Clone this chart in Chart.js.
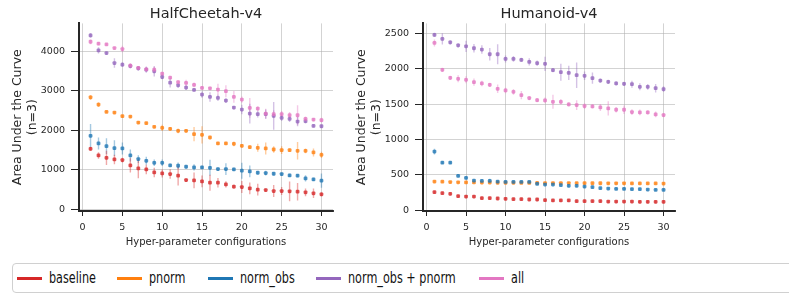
<!DOCTYPE html>
<html>
<head>
<meta charset="utf-8">
<script src="https://cdn.jsdelivr.net/npm/chart.js@4"></script>
<style>
	body { margin: 0; background: #fff; width: 789px; height: 294px; overflow: hidden; position: relative; font-family: 'DejaVu Sans', sans-serif; }
	.wrap { position: absolute; top: 0; width: 340px; height: 250px; }
	#legend { position: absolute; left: 12px; top: 263px; width: 800px; height: 30px; border: 1px solid #d0d0d0; border-radius: 4px; box-sizing: border-box; }
	.lg-line { position: absolute; top: 13px; width: 25px; height: 3px; }
	.lg-text { position: absolute; top: 4px; font-size: 16.5px; line-height: 20px; color: #111; white-space: nowrap; transform: scaleX(0.68); transform-origin: left center; }
</style>
</head>
<body>
<div class="wrap" style="left:0"><canvas id="chart0"></canvas></div>
<div class="wrap" style="left:340px"><canvas id="chart1"></canvas></div>
<div id="legend"></div>
<script>
var configs = [];
for (var i = 1; i <= 30; i++) configs.push(i);
var xTicks = [0, 5, 10, 15, 20, 25, 30];

var seriesNames = ['baseline', 'pnorm', 'norm_obs', 'norm_obs + pnorm', 'all'];
var seriesColors = ['214, 39, 40', '255, 127, 14', '31, 119, 180', '148, 103, 189', '227, 119, 194'];

// HalfCheetah-v4
var cheetahTicks = [0, 1000, 2000, 3000, 4000];
var cheetahBaseline = [1529, 1361, 1302, 1260, 1244, 1109, 1034, 1008, 933, 907, 891, 849, 739, 731, 706, 672, 672, 630, 571, 563, 529, 496, 487, 462, 462, 454, 445, 429, 403, 378];
var cheetahBaselineErr = [50, 80, 180, 120, 60, 180, 250, 120, 120, 100, 120, 250, 40, 200, 150, 200, 120, 80, 50, 150, 150, 150, 40, 150, 100, 250, 220, 100, 120, 50];
var cheetahPnorm = [2832, 2647, 2462, 2445, 2353, 2344, 2193, 2176, 2084, 2059, 2034, 1983, 1983, 1899, 1882, 1815, 1664, 1664, 1655, 1605, 1571, 1555, 1538, 1512, 1496, 1496, 1479, 1479, 1437, 1378];
var cheetahPnormErr = [60, 60, 30, 30, 30, 30, 30, 30, 30, 80, 40, 60, 40, 180, 220, 40, 40, 40, 60, 40, 40, 100, 150, 80, 100, 40, 220, 60, 100, 80];
var cheetahNormObs = [1857, 1664, 1597, 1546, 1538, 1361, 1269, 1227, 1176, 1176, 1109, 1101, 1076, 1059, 1059, 1050, 1017, 1017, 1008, 975, 958, 924, 916, 899, 891, 857, 849, 781, 756, 723];
var cheetahNormObsErr = [300, 150, 200, 200, 150, 150, 100, 100, 80, 80, 40, 80, 40, 80, 40, 200, 40, 150, 40, 200, 150, 40, 60, 40, 40, 40, 40, 80, 40, 180];
var cheetahNormPnorm = [4396, 4018, 3950, 3697, 3657, 3622, 3564, 3530, 3488, 3345, 3202, 3135, 3077, 3017, 2900, 2840, 2815, 2748, 2572, 2522, 2421, 2404, 2404, 2361, 2311, 2285, 2219, 2227, 2109, 2100];
var cheetahNormPnormErr = [60, 80, 40, 120, 60, 60, 60, 80, 130, 60, 120, 60, 60, 40, 80, 120, 80, 60, 40, 120, 250, 80, 120, 350, 80, 80, 120, 60, 40, 40];
var cheetahAll = [4236, 4187, 4169, 4077, 4052, 3630, 3575, 3540, 3530, 3429, 3328, 3215, 3194, 3144, 3069, 3060, 3027, 2985, 2842, 2775, 2564, 2547, 2420, 2404, 2404, 2378, 2378, 2286, 2269, 2252];
var cheetahAllErr = [60, 40, 30, 30, 80, 60, 40, 60, 80, 40, 40, 40, 80, 60, 40, 40, 150, 150, 150, 80, 250, 60, 120, 100, 80, 80, 250, 60, 40, 60];

// Humanoid-v4
var humanoidTicks = [0, 500, 1000, 1500, 2000, 2500];
var humanoidBaseline = [254, 240, 231, 198, 193, 193, 170, 170, 165, 160, 155, 155, 151, 151, 141, 137, 137, 137, 127, 127, 127, 127, 122, 122, 122, 122, 118, 118, 118, 118];
var humanoidBaselineErr = [20, 20, 20, 20, 20, 20, 20, 20, 20, 20, 20, 20, 20, 20, 20, 20, 20, 20, 20, 20, 20, 20, 20, 20, 20, 20, 20, 20, 20, 20];
var humanoidPnorm = [405, 403, 398, 395, 393, 392, 390, 390, 388, 387, 387, 386, 386, 385, 384, 384, 383, 383, 382, 382, 381, 381, 380, 380, 380, 379, 379, 378, 378, 377];
var humanoidPnormErr = [15, 15, 15, 15, 15, 15, 15, 15, 15, 15, 15, 15, 15, 15, 15, 15, 15, 15, 15, 15, 15, 15, 15, 15, 15, 15, 15, 15, 15, 15];
var humanoidNormObs = [829, 673, 673, 485, 457, 419, 414, 414, 405, 400, 400, 400, 400, 372, 363, 363, 353, 344, 344, 334, 325, 311, 306, 301, 301, 297, 297, 292, 287, 287];
var humanoidNormObsErr = [40, 20, 20, 20, 20, 20, 20, 30, 20, 15, 15, 15, 15, 15, 15, 15, 15, 15, 15, 15, 15, 15, 15, 15, 15, 15, 15, 15, 15, 15];
var humanoidNormPnorm = [2481, 2425, 2377, 2335, 2321, 2293, 2274, 2208, 2208, 2142, 2142, 2128, 2100, 2081, 2072, 1982, 1954, 1944, 1911, 1902, 1869, 1836, 1817, 1794, 1789, 1784, 1747, 1747, 1728, 1714];
var humanoidNormPnormErr = [30, 80, 30, 30, 80, 60, 60, 90, 140, 50, 40, 30, 50, 40, 100, 30, 120, 100, 180, 60, 80, 30, 30, 30, 30, 50, 50, 40, 60, 40];
var humanoidAll = [2368, 1987, 1874, 1860, 1846, 1813, 1794, 1775, 1718, 1695, 1676, 1629, 1587, 1558, 1554, 1535, 1535, 1497, 1488, 1474, 1469, 1455, 1441, 1422, 1422, 1389, 1384, 1384, 1356, 1346];
var humanoidAllErr = [50, 30, 30, 50, 50, 50, 40, 30, 60, 40, 40, 60, 30, 30, 40, 100, 40, 30, 70, 40, 30, 50, 100, 40, 60, 40, 40, 30, 40, 30];

var textColor = '#262626';
var fontFamily = "'DejaVu Sans', sans-serif";

// vertical error bars, drawn under the markers
var errorBarPlugin = {
	id: 'errorBars',
	beforeDatasetsDraw: function(chart) {
		var ctx = chart.ctx;
		var xs = chart.scales.x;
		var ys = chart.scales.y;
		var area = chart.chartArea;
		ctx.save();
		ctx.beginPath();
		ctx.rect(area.left, area.top, area.right - area.left, area.bottom - area.top);
		ctx.clip();
		ctx.lineWidth = 1.4;
		chart.data.datasets.forEach(function(ds) {
			ctx.strokeStyle = ds.errColor;
			ds.data.forEach(function(p, i) {
				var px = xs.getPixelForValue(p.x);
				ctx.beginPath();
				ctx.moveTo(px, ys.getPixelForValue(p.y - ds.errors[i]));
				ctx.lineTo(px, ys.getPixelForValue(p.y + ds.errors[i]));
				ctx.stroke();
			});
		});
		ctx.restore();
	}
};

function makeDatasets(values, errors) {
	var list = [];
	for (var s = 0; s < values.length; s++) {
		list.push({
			label: seriesNames[s],
			data: configs.map(function(c, i) { return { x: c, y: values[s][i] }; }),
			errors: errors[s],
			errColor: 'rgba(' + seriesColors[s] + ', 0.4)',
			backgroundColor: 'rgba(' + seriesColors[s] + ', 0.8)',
			borderWidth: 0,
			pointStyle: 'rectRounded',
			pointRadius: 2.2,
			showLine: false
		});
	}
	// later series on top, like matplotlib
	return list.reverse();
}

function plainTick(value) {
	return String(value);
}

function drawChart(id, title, values, errors, yTicks, yMin, yMax, yWidth, padRight, yTitlePad) {
	var ctx = document.getElementById('chart' + id);
	return new Chart(ctx, {
		type: 'scatter',
		data: { datasets: makeDatasets(values, errors) },
		plugins: [errorBarPlugin],
		options: {
			responsive: true,
			maintainAspectRatio: false,
			animation: false,
			layout: { padding: { left: 0, right: padRight, top: 0, bottom: 0 } },
			plugins: {
				legend: { display: false },
				tooltip: { enabled: false },
				title: {
					display: true,
					text: title,
					fullSize: false,
					color: textColor,
					font: { family: fontFamily, size: 14.5, weight: 'normal' },
					padding: { top: 6, bottom: 0 }
				}
			},
			scales: {
				x: {
					type: 'linear',
					min: -0.45,
					max: 31.45,
					afterBuildTicks: function(scale) {
						scale.ticks = xTicks.map(function(v) { return { value: v }; });
					},
					afterFit: function(scale) { scale.height = 39; },
					grid: { color: 'rgba(176, 176, 176, 0.7)', lineWidth: 0.8, tickColor: '#262626', tickLength: 5, tickWidth: 1 },
					border: { display: true, color: '#262626', width: 2 },
					ticks: { color: textColor, padding: 6, maxRotation: 0, callback: plainTick, font: { family: fontFamily, size: 9.5 } },
					title: {
						display: true,
						text: 'Hyper-parameter configurations',
						color: textColor,
						font: { family: fontFamily, size: 10 },
						padding: { top: 0, bottom: 2 }
					}
				},
				y: {
					type: 'linear',
					min: yMin,
					max: yMax,
					afterBuildTicks: function(scale) {
						scale.ticks = yTicks.map(function(v) { return { value: v }; });
					},
					afterFit: function(scale) { scale.width = yWidth; },
					grid: { color: 'rgba(176, 176, 176, 0.7)', lineWidth: 0.8, tickColor: '#262626', tickLength: 8, tickWidth: 1 },
					border: { display: true, color: '#262626', width: 2 },
					ticks: { color: textColor, padding: 6, callback: plainTick, font: { family: fontFamily, size: 9.5 } },
					title: {
						display: true,
						text: ['Area Under the Curve', '(n=3)'],
						color: textColor,
						font: { family: fontFamily, size: 12.5 },
						padding: { top: yTitlePad, bottom: 0 }
					}
				}
			}
		}
	});
}

drawChart(0, 'HalfCheetah-v4',
	[cheetahBaseline, cheetahPnorm, cheetahNormObs, cheetahNormPnorm, cheetahAll],
	[cheetahBaselineErr, cheetahPnormErr, cheetahNormObsErr, cheetahNormPnormErr, cheetahAllErr],
	cheetahTicks, -43, 4700, 79, 7, 10);

drawChart(1, 'Humanoid-v4',
	[humanoidBaseline, humanoidPnorm, humanoidNormObs, humanoidNormPnorm, humanoidAll],
	[humanoidBaselineErr, humanoidPnormErr, humanoidNormObsErr, humanoidNormPnormErr, humanoidAllErr],
	humanoidTicks, -12, 2645, 83, 5, 14);

// shared legend under both panels
var legendX = [4, 104, 195, 303, 466];
var legend = document.getElementById('legend');
seriesNames.forEach(function(name, i) {
	var line = document.createElement('div');
	line.className = 'lg-line';
	line.style.left = legendX[i] + 'px';
	line.style.background = 'rgb(' + seriesColors[i] + ')';
	legend.appendChild(line);
	var text = document.createElement('span');
	text.className = 'lg-text';
	text.style.left = (legendX[i] + 32) + 'px';
	text.textContent = name;
	legend.appendChild(text);
});
</script>
</body>
</html>
